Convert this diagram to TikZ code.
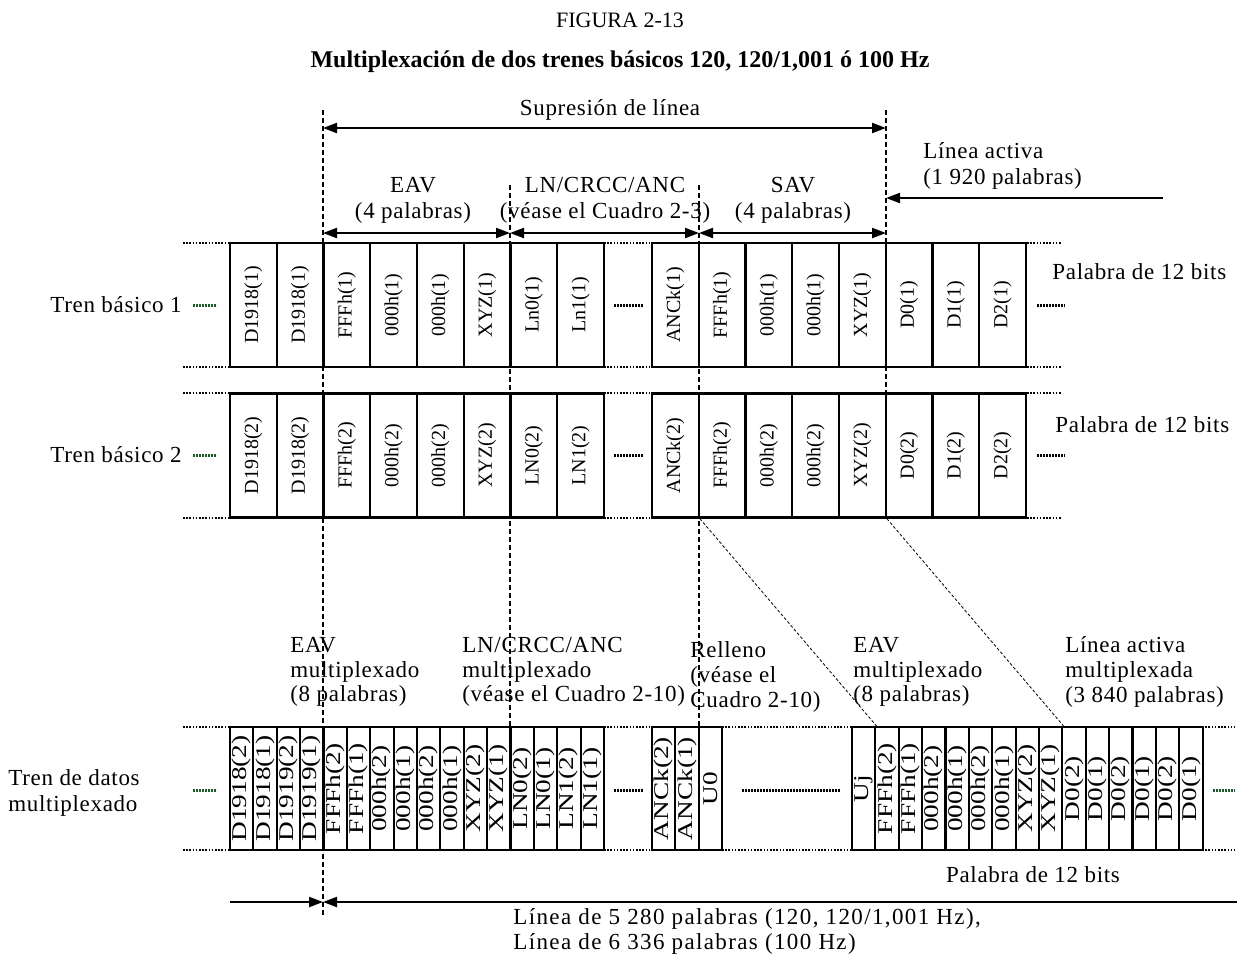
\documentclass[tikz,border=0pt]{standalone}
\usepackage{fontspec}
\usepackage{graphicx}
\setmainfont{Liberation Serif}
\usetikzlibrary{arrows.meta}
\definecolor{lead}{RGB}{30,90,40}
\tikzset{
  word/.style={draw, line width=1.1pt, rotate=90, inner sep=0pt,
    minimum width=62pt, minimum height=23.375pt, font=\fontsize{10}{12}\selectfont},
  muxword/.style={word, minimum width=61.5pt, minimum height=11.69pt,
    font=\fontsize{10.5}{12}\selectfont},
  lbl/.style={inner sep=0pt, font=\fontsize{11.5}{13}\selectfont\addfontfeature{LetterSpace=3}},
  edge/.style={line width=0.6pt, dash pattern=on 0.8pt off 0.8pt},
  guide/.style={line width=0.7pt, dash pattern=on 2.5pt off 1.5pt},
  skew/.style={line width=0.4pt, dash pattern=on 1.5pt off 1pt},
  span/.style={line width=1.1pt, {Triangle[length=7pt,width=5pt]}-{Triangle[length=7pt,width=5pt]}},
  toward/.style={line width=1.1pt, -{Triangle[length=7pt,width=5pt]}},
  cont/.style={line width=1.5pt, dash pattern=on 1.2pt off 0.3pt},
}
\begin{document}
\begin{tikzpicture}[x=0.5pt,y=-0.5pt]
    \useasboundingbox (0,0) rectangle (1240,955);

    % Titles
    \node[inner sep=0pt, font=\fontsize{11}{13}\selectfont] (fig) at (620,20) {FIGURA 2-13};
    \node[inner sep=0pt, font=\fontsize{12}{13}\selectfont\bfseries] (title) at (620,62)
        {Multiplexación de dos trenes básicos 120, 120/1,001 ó 100 Hz};

    % Basic stream 1
    \foreach \txt [count=\i] in {D1918(1),D1918(1),FFFh(1),000h(1),000h(1),XYZ(1),Ln0(1),Ln1(1)}
        \node[word] (t1a\i) at ({230+(\i-0.5)*46.75},305) {\txt};
    \foreach \txt [count=\i] in {ANCk(1),FFFh(1),000h(1),000h(1),XYZ(1),D0(1),D1(1),D2(1)}
        \node[word] (t1b\i) at ({652+(\i-0.5)*46.75},305) {\txt};

    % Basic stream 2
    \foreach \txt [count=\i] in {D1918(2),D1918(2),FFFh(2),000h(2),000h(2),XYZ(2),LN0(2),LN1(2)}
        \node[word] (t2a\i) at ({230+(\i-0.5)*46.75},455.5) {\txt};
    \foreach \txt [count=\i] in {ANCk(2),FFFh(2),000h(2),000h(2),XYZ(2),D0(2),D1(2),D2(2)}
        \node[word] (t2b\i) at ({652+(\i-0.5)*46.75},455.5) {\txt};

    % Multiplexed stream
    \foreach \txt [count=\i] in {D1918(2),D1918(1),D1919(2),D1919(1),FFFh(2),FFFh(1),000h(2),000h(1),
                                 000h(2),000h(1),XYZ(2),XYZ(1),LN0(2),LN0(1),LN1(2),LN1(1)}
        \node[muxword] (ma\i) at ({230+(\i-0.5)*23.375},788.5) {\scalebox{1.3}[1]{\txt}};
    \foreach \txt [count=\i] in {ANCk(2),ANCk(1),U0}
        \node[muxword] (mb\i) at ({652+(\i-0.5)*23.375},788.5) {\scalebox{1.3}[1]{\txt}};
    \foreach \txt [count=\i] in {Uj,FFFh(2),FFFh(1),000h(2),000h(1),000h(2),000h(1),XYZ(2),XYZ(1),
                                 D0(2),D0(1),D0(2),D0(1),D0(2),D0(1)}
        \node[muxword] (mc\i) at ({852+(\i-0.5)*23.375},788.5) {\scalebox{1.3}[1]{\txt}};

    % Open ends of the streams
    \foreach \y in {243,367,393,518} {
        \draw[edge] (183,\y) -- (230,\y);
        \draw[edge] (604,\y) -- (652,\y);
        \draw[edge] (1027,\y) -- (1062,\y);
    }
    \foreach \y in {727,850} {
        \draw[edge] (183,\y) -- (230,\y);
        \draw[edge] (604,\y) -- (652,\y);
        \draw[edge] (722,\y) -- (852,\y);
        \draw[edge] (1202,\y) -- (1235,\y);
    }
    \foreach \y in {305,455.5} {
        \draw[cont, lead] (193,\y) -- (217,\y);
        \draw[cont] (614,\y) -- (643,\y);
        \draw[cont] (1037,\y) -- (1065,\y);
    }
    \draw[cont, lead] (193,790) -- (217,790);
    \draw[cont] (614,790) -- (643,790);
    \draw[cont] (742,790) -- (840,790);
    \draw[cont, lead] (1213,790) -- (1235,790);

    % Guide lines
    \coordinate (eavT) at (323,110);  \coordinate (eavB) at (323,918);
    \coordinate (savT) at (886,110);  \coordinate (savB) at (886,518);
    \coordinate (lnT)  at (510,185);  \coordinate (lnB)  at (510,727);
    \coordinate (ancT) at (699,185);  \coordinate (ancB) at (699,727);
    \draw[guide] (eavT) -- (eavB);
    \draw[guide] (savT) -- (savB);
    \draw[guide] (lnT) -- (lnB);
    \draw[guide] (ancT) -- (ancB);
    \draw[skew] (t2b1.south west) -- (mc1.south east);
    \draw[skew] (t2b5.south west) -- (mc9.south east);

    % Spans
    \coordinate (supL) at (323,128);  \coordinate (supR) at (886,128);
    \coordinate (s0) at (323,233);  \coordinate (s1) at (510,233);
    \coordinate (s2) at (699,233);  \coordinate (s3) at (886,233);
    \coordinate (actS) at (1163,198); \coordinate (actE) at (886,198);
    \coordinate (linA) at (230,902);  \coordinate (linM) at (323,902);
    \coordinate (linB) at (1237,902);
    \draw[span] (supL) -- (supR);
    \draw[span] (s0) -- (s1);
    \draw[span] (s1) -- (s2);
    \draw[span] (s2) -- (s3);
    \draw[toward] (actS) -- (actE);
    \draw[toward] (linA) -- (linM);
    \draw[toward] (linB) -- (linM);

    % Labels
    \node[lbl] (sup) at (610,110) {Supresión de línea};
    \node[lbl, align=center] (eav) at (413,200) {EAV\\(4 palabras)};
    \node[lbl, align=center] (lncrc) at (605,200) {LN/CRCC/ANC\\(véase el Cuadro 2-3)};
    \node[lbl, align=center] (sav) at (793,200) {SAV\\(4 palabras)};
    \node[lbl, align=left, anchor=west] (act) at (923,166) {Línea activa\\(1 920 palabras)};
    \node[lbl, anchor=east] (tren1) at (182,305) {Tren básico 1};
    \node[lbl, anchor=east] (tren2) at (182,455) {Tren básico 2};
    \node[lbl, anchor=west] (pal1) at (1052,272) {Palabra de 12 bits};
    \node[lbl, anchor=west] (pal2) at (1055,425) {Palabra de 12 bits};
    \node[lbl, align=left, anchor=west] (tmux) at (8,793) {Tren de datos\\multiplexado};
    \node[lbl, align=left, anchor=west, font=\fontsize{11.5}{12.3}\selectfont\addfontfeature{LetterSpace=3}]
        (meav) at (290,672) {EAV\\multiplexado\\(8 palabras)};
    \node[lbl, align=left, anchor=west, font=\fontsize{11.5}{12.3}\selectfont\addfontfeature{LetterSpace=3}]
        (mln) at (462,672) {LN/CRCC/ANC\\multiplexado\\(véase el Cuadro 2-10)};
    \node[lbl, align=left, anchor=west, font=\fontsize{11.5}{12.5}\selectfont\addfontfeature{LetterSpace=3}]
        (rel) at (690,677) {Relleno\\(véase el\\Cuadro 2-10)};
    \node[lbl, align=left, anchor=west, font=\fontsize{11.5}{12.3}\selectfont\addfontfeature{LetterSpace=3}]
        (meav2) at (853,672) {EAV\\multiplexado\\(8 palabras)};
    \node[lbl, align=left, anchor=west, font=\fontsize{11.5}{12.3}\selectfont\addfontfeature{LetterSpace=3}]
        (mact) at (1065,672) {Línea activa\\multiplexada\\(3 840 palabras)};
    \node[lbl] (pal3) at (1033,875) {Palabra de 12 bits};
    \node[lbl, align=left, anchor=west, font=\fontsize{11.5}{12.5}\selectfont\addfontfeature{LetterSpace=6}]
        (lin) at (513,931)
        {Línea de 5 280 palabras (120, 120/1,001 Hz),\\Línea de 6 336 palabras (100 Hz)};
\end{tikzpicture}
\end{document}
